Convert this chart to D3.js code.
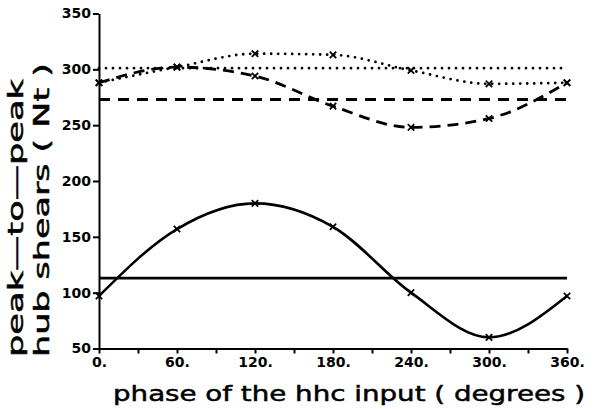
<!DOCTYPE html>
<html>
<head>
<meta charset="utf-8">
<script src="https://cdn.jsdelivr.net/npm/d3@7"></script>
<style>
  html, body { margin: 0; padding: 0; background: #fff; }
  svg { display: block; }
  .axis path, .axis line { stroke: #000; stroke-width: 2; }
  .axis text { font-family: "DejaVu Sans", sans-serif; font-weight: bold; font-size: 14px; fill: #000; }
  .title { font-family: "DejaVu Sans", sans-serif; font-size: 22px; fill: #000; stroke: #000; stroke-width: 0.5; }
</style>
</head>
<body>
<script>
// Phase of the HHC input (degrees) at which hub shears were computed
const phase = [0, 60, 120, 180, 240, 300, 360];

// Peak-to-peak hub shears (Nt) for each case
const solidCurve  = [97, 157, 180, 159, 100, 60, 97];
const dashedCurve = [288, 302, 294, 267, 248, 256, 288];
const dottedCurve = [288, 302, 314, 313, 299, 287, 288];

// Baseline levels (no HHC input)
const solidLevel  = 113;
const dashedLevel = 273;
const dottedLevel = 301;

// Axis ticks
const xTicks = [0, 30, 60, 90, 120, 150, 180, 210, 240, 270, 300, 330, 360];
const xTickLabels = ["0.", "", "60.", "", "120.", "", "180.", "", "240.", "", "300.", "", "360."];
const yTicks = [50, 100, 150, 200, 250, 300, 350];

const W = 610, H = 409;
const svg = d3.select("body").append("svg").attr("width", W).attr("height", H);

const x = d3.scaleLinear().domain([0, 360]).range([99, 567]);
const y = d3.scaleLinear().domain([50, 350]).range([348.5, 13.5]);

// Axes
svg.append("g").attr("class", "axis")
  .attr("transform", `translate(0,${y(50)})`)
  .call(d3.axisBottom(x).tickValues(xTicks).tickSize(5).tickSizeOuter(0).tickPadding(4)
    .tickFormat((d, i) => xTickLabels[i]));

svg.append("g").attr("class", "axis")
  .attr("transform", `translate(${x(0)},0)`)
  .call(d3.axisLeft(y).tickValues(yTicks).tickSize(6).tickSizeOuter(0).tickPadding(2)
    .tickFormat(d3.format("d")));

// Series: curves through the computed points and flat baseline levels
const series = [
  { values: solidCurve,  dash: null,  width: 2.6, cap: "butt" },
  { values: dashedCurve, dash: "11,7", width: 2.8, cap: "butt" },
  { values: dottedCurve, dash: "0,7", width: 2.8, cap: "round" }
];
const levels = [
  { value: solidLevel,  dash: null,  width: 2.6, cap: "butt" },
  { value: dashedLevel, dash: "11,8", width: 2.8, cap: "butt" },
  { value: dottedLevel, dash: "0,7", width: 2.8, cap: "round" }
];

const line = d3.line()
  .x((d, i) => x(phase[i]))
  .y(d => y(d))
  .curve(d3.curveMonotoneX);

levels.forEach(l => {
  svg.append("line")
    .attr("x1", x(0)).attr("x2", x(360))
    .attr("y1", y(l.value)).attr("y2", y(l.value))
    .attr("stroke", "#000").attr("stroke-width", l.width)
    .attr("stroke-linecap", l.cap)
    .attr("stroke-dasharray", l.dash);
});

series.forEach(s => {
  svg.append("path")
    .datum(s.values)
    .attr("d", line)
    .attr("fill", "none")
    .attr("stroke", "#000").attr("stroke-width", s.width)
    .attr("stroke-linecap", s.cap)
    .attr("stroke-dasharray", s.dash);

  // cross markers at the computed points
  const m = 3.2;
  svg.append("g").selectAll("path")
    .data(s.values)
    .join("path")
    .attr("d", (d, i) => {
      const cx = x(phase[i]), cy = y(d);
      return `M${cx - m},${cy - m}L${cx + m},${cy + m}M${cx - m},${cy + m}L${cx + m},${cy - m}`;
    })
    .attr("stroke", "#000").attr("stroke-width", 1.8);
});

// Axis titles
svg.append("text").attr("class", "title")
  .attr("x", 113).attr("y", 401)
  .attr("textLength", 472).attr("lengthAdjust", "spacingAndGlyphs")
  .text("phase of the hhc input ( degrees )");

svg.append("text").attr("class", "title")
  .attr("transform", "translate(23,357) rotate(-90)")
  .attr("textLength", 278).attr("lengthAdjust", "spacingAndGlyphs")
  .text("peak—to—peak");

svg.append("text").attr("class", "title")
  .attr("transform", "translate(49,357) rotate(-90)")
  .attr("textLength", 294).attr("lengthAdjust", "spacingAndGlyphs")
  .text("hub shears ( Nt )");
</script>
</body>
</html>
